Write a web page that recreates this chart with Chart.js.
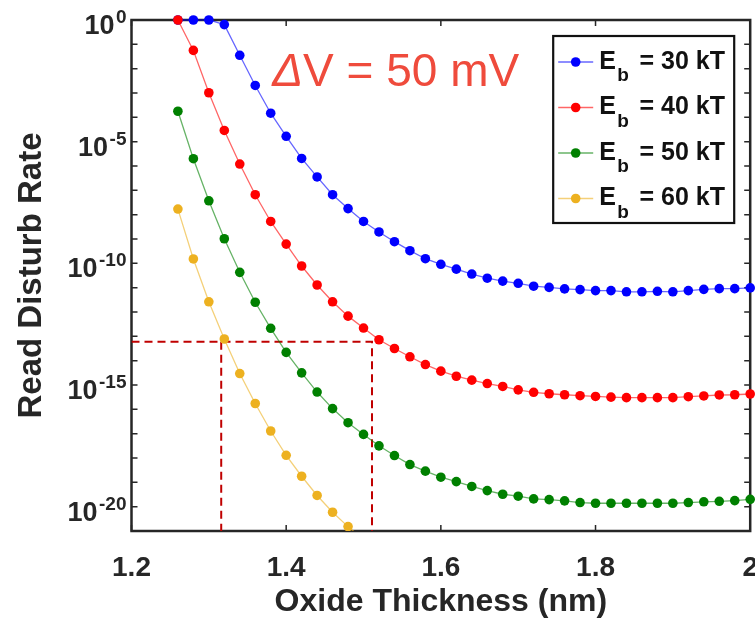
<!DOCTYPE html>
<html>
<head>
<meta charset="utf-8">
<title>Read Disturb Rate vs Oxide Thickness</title>
<script src="https://cdn.jsdelivr.net/npm/chart.js@4.4.1/dist/chart.umd.min.js"></script>
<style>
  html, body { margin: 0; padding: 0; background: #fff; }
</style>
</head>
<body>
<canvas id="chart" width="755" height="621"></canvas>
<script>
// oxide thickness (nm) and log10 of the read disturb rate for each barrier height
const thickness = [1.26, 1.28, 1.30, 1.32, 1.34, 1.36, 1.38, 1.40, 1.42, 1.44, 1.46, 1.48, 1.50,
  1.52, 1.54, 1.56, 1.58, 1.60, 1.62, 1.64, 1.66, 1.68, 1.70, 1.72, 1.74, 1.76, 1.78, 1.80,
  1.82, 1.84, 1.86, 1.88, 1.90, 1.92, 1.94, 1.96, 1.98, 2.00];

const rate30Exp = [0, 0, 0, -0.19, -1.45, -2.69, -3.83, -4.78, -5.69, -6.45, -7.18, -7.75, -8.28,
  -8.71, -9.11, -9.48, -9.81, -10.04, -10.24, -10.44, -10.61, -10.73, -10.82, -10.94, -10.99, -11.05,
  -11.08, -11.12, -11.12, -11.17, -11.17, -11.15, -11.17, -11.12, -11.07, -11.04, -11.04, -11.01];
const rate40Exp = [0, -1.25, -2.99, -4.54, -5.92, -7.18, -8.28, -9.21, -10.11, -10.89, -11.58, -12.17, -12.66,
  -13.14, -13.50, -13.84, -14.16, -14.43, -14.64, -14.80, -14.94, -15.06, -15.20, -15.30, -15.36, -15.40,
  -15.44, -15.47, -15.50, -15.52, -15.52, -15.52, -15.52, -15.48, -15.45, -15.41, -15.40, -15.37];
const rate50Exp = [-3.75, -5.70, -7.43, -8.99, -10.37, -11.60, -12.67, -13.66, -14.50, -15.29, -15.97, -16.55, -17.03,
  -17.50, -17.90, -18.27, -18.54, -18.79, -18.97, -19.17, -19.34, -19.49, -19.57, -19.68, -19.71, -19.76,
  -19.83, -19.86, -19.86, -19.86, -19.86, -19.86, -19.86, -19.83, -19.80, -19.78, -19.75, -19.70];
const rate60Exp = [-7.77, -9.82, -11.58, -13.11, -14.53, -15.76, -16.89, -17.89, -18.75, -19.54, -20.23, -20.82, -21.35];

const barrierKT = ['30', '40', '50', '60'];
const seriesColors = ['#0000ff', '#ff0000', '#008000', '#edb120'];

// axis ticks
const xTickValues = [1.2, 1.4, 1.6, 1.8, 2.0];
const yDecades = [];
for (let e = -21; e <= 0; e++) yDecades.push(e);
const yLabelDecades = [0, -5, -10, -15, -20];

// target rate and the thickness window it gives
const targetRate = 6e-14;
const targetThickness = [1.316, 1.511];
const noteText = ['\u0394', 'V = 50 mV'];

const FONT = '"Liberation Sans", Arial, Helvetica, sans-serif';
const INK = '#262626';
const TICK_LEN = 6;

function fade(hex, a) {
  const n = parseInt(hex.slice(1), 16);
  return `rgba(${n >> 16}, ${(n >> 8) & 255}, ${n & 255}, ${a})`;
}

const expSeries = [rate30Exp, rate40Exp, rate50Exp, rate60Exp];
const datasets = expSeries.map((exps, i) => ({
  label: 'Eb = ' + barrierKT[i] + ' kT',
  data: exps.map((e, k) => ({ x: thickness[k], y: Math.pow(10, e) })),
  borderColor: fade(seriesColors[i], 0.6),
  backgroundColor: seriesColors[i],
  pointBackgroundColor: seriesColors[i],
  pointBorderWidth: 0,
  pointRadius: 4.8,
  borderWidth: 1.3,
  tension: 0,
  order: 4 - i,
  clip: { left: 8, top: 8, right: 8, bottom: 0 }
}));

// dashed guide lines
const guideStyle = { borderColor: '#c00000', borderWidth: 2, borderDash: [8, 5], pointRadius: 0, order: 9, clip: 0 };
datasets.push(Object.assign({
  label: 'guide',
  data: [
    { x: 1.2, y: targetRate },
    { x: targetThickness[1], y: targetRate },
    { x: targetThickness[1], y: 1e-21 }
  ]
}, guideStyle));
datasets.push(Object.assign({
  label: 'guide',
  data: [
    { x: targetThickness[0], y: targetRate },
    { x: targetThickness[0], y: 1e-21 }
  ]
}, guideStyle));

const frame = {
  id: 'frame',
  beforeDatasetsDraw(chart) {
    const { ctx, chartArea: a, scales: { x, y } } = chart;
    ctx.save();
    ctx.strokeStyle = INK;
    ctx.lineWidth = 1.5;
    ctx.beginPath();
    x.ticks.forEach(t => {
      const px = x.getPixelForValue(t.value);
      ctx.moveTo(px, a.bottom); ctx.lineTo(px, a.bottom - TICK_LEN);
      ctx.moveTo(px, a.top); ctx.lineTo(px, a.top + TICK_LEN);
    });
    y.ticks.forEach(t => {
      const py = y.getPixelForValue(t.value);
      ctx.moveTo(a.left, py); ctx.lineTo(a.left + TICK_LEN, py);
      ctx.moveTo(a.right, py); ctx.lineTo(a.right - TICK_LEN, py);
    });
    ctx.stroke();
    ctx.lineWidth = 2.5;
    ctx.strokeRect(a.left, a.top, a.right - a.left, a.bottom - a.top);
    ctx.restore();
  },
  afterDraw(chart) {
    const { ctx, chartArea: a, scales: { x, y } } = chart;
    ctx.save();

    // y tick labels as powers of ten
    ctx.fillStyle = INK;
    ctx.textAlign = 'right';
    ctx.textBaseline = 'alphabetic';
    yLabelDecades.forEach(e => {
      const py = y.getPixelForValue(Math.pow(10, e));
      const right = a.left - 5;
      const sup = String(e);
      ctx.font = `bold 19px ${FONT}`;
      const supW = ctx.measureText(sup).width;
      ctx.fillText(sup, right, py + 3);
      ctx.font = `bold 27px ${FONT}`;
      ctx.fillText('10', right - supW - 1.5, py + 14);
    });

    // delta V note
    let nx = x.getPixelForValue(1.382);
    const ny = y.getPixelForValue(Math.pow(10, -2.72));
    ctx.textAlign = 'left';
    ctx.fillStyle = '#ef4b3c';
    ctx.font = `italic 46px ${FONT}`;
    ctx.fillText(noteText[0], nx, ny);
    nx += ctx.measureText(noteText[0]).width;
    ctx.font = `46px ${FONT}`;
    ctx.fillText(noteText[1], nx, ny);

    // legend
    const lg = { left: a.right - 197, top: a.top + 16, w: 181, h: 187 };
    ctx.fillStyle = '#fff';
    ctx.fillRect(lg.left, lg.top, lg.w, lg.h);
    ctx.strokeStyle = '#111';
    ctx.lineWidth = 2.2;
    ctx.strokeRect(lg.left, lg.top, lg.w, lg.h);
    barrierKT.forEach((kt, i) => {
      const ry = lg.top + 26 + i * 45.5;
      ctx.strokeStyle = fade(seriesColors[i], 0.6);
      ctx.lineWidth = 1.5;
      ctx.beginPath();
      ctx.moveTo(lg.left + 5, ry);
      ctx.lineTo(lg.left + 40, ry);
      ctx.stroke();
      ctx.fillStyle = seriesColors[i];
      ctx.beginPath();
      ctx.arc(lg.left + 22.5, ry, 4.8, 0, Math.PI * 2);
      ctx.fill();

      ctx.fillStyle = '#111';
      let tx = lg.left + 46;
      ctx.font = `bold 25px ${FONT}`;
      ctx.fillText('E', tx, ry + 6.8);
      tx += ctx.measureText('E').width + 1.5;
      ctx.font = `bold 19px ${FONT}`;
      ctx.fillText('b', tx, ry + 19.3);
      tx += ctx.measureText('b').width + 10.5;
      ctx.font = `bold 25px ${FONT}`;
      ctx.fillText('= ' + kt + ' kT', tx, ry + 6.8);
    });
    ctx.restore();
  }
};

new Chart(document.getElementById('chart'), {
  type: 'line',
  data: { datasets },
  plugins: [frame],
  options: {
    responsive: false,
    animation: false,
    layout: { padding: { top: 20, right: 1.5, left: 0, bottom: 0 } },
    plugins: { legend: { display: false }, tooltip: { enabled: false } },
    scales: {
      x: {
        type: 'linear',
        min: 1.2,
        max: 2.0,
        grid: { display: false },
        border: { display: false },
        afterBuildTicks: s => { s.ticks = xTickValues.map(v => ({ value: v })); },
        afterFit: s => { s.height = 90; s.paddingLeft = 0; s.paddingRight = 0; },
        ticks: {
          color: INK,
          padding: 12,
          maxRotation: 0,
          font: { family: FONT, size: 28, weight: 'bold' },
          callback: v => String(Number(v.toFixed(1)))
        },
        title: {
          display: true,
          text: 'Oxide Thickness (nm)',
          color: INK,
          padding: { top: 0, bottom: 0 },
          font: { family: FONT, size: 32, weight: 'bold' }
        }
      },
      y: {
        type: 'logarithmic',
        min: 1e-21,
        max: 1,
        grid: { display: false },
        border: { display: false },
        afterBuildTicks: s => { s.ticks = yDecades.map(e => ({ value: Math.pow(10, e) })); },
        afterFit: s => { s.width = 131.5; },
        ticks: { display: false },
        title: {
          display: true,
          text: 'Read Disturb Rate',
          color: INK,
          padding: { top: 12, bottom: 0 },
          font: { family: FONT, size: 33, weight: 'bold' }
        }
      }
    }
  }
});
</script>
</body>
</html>
